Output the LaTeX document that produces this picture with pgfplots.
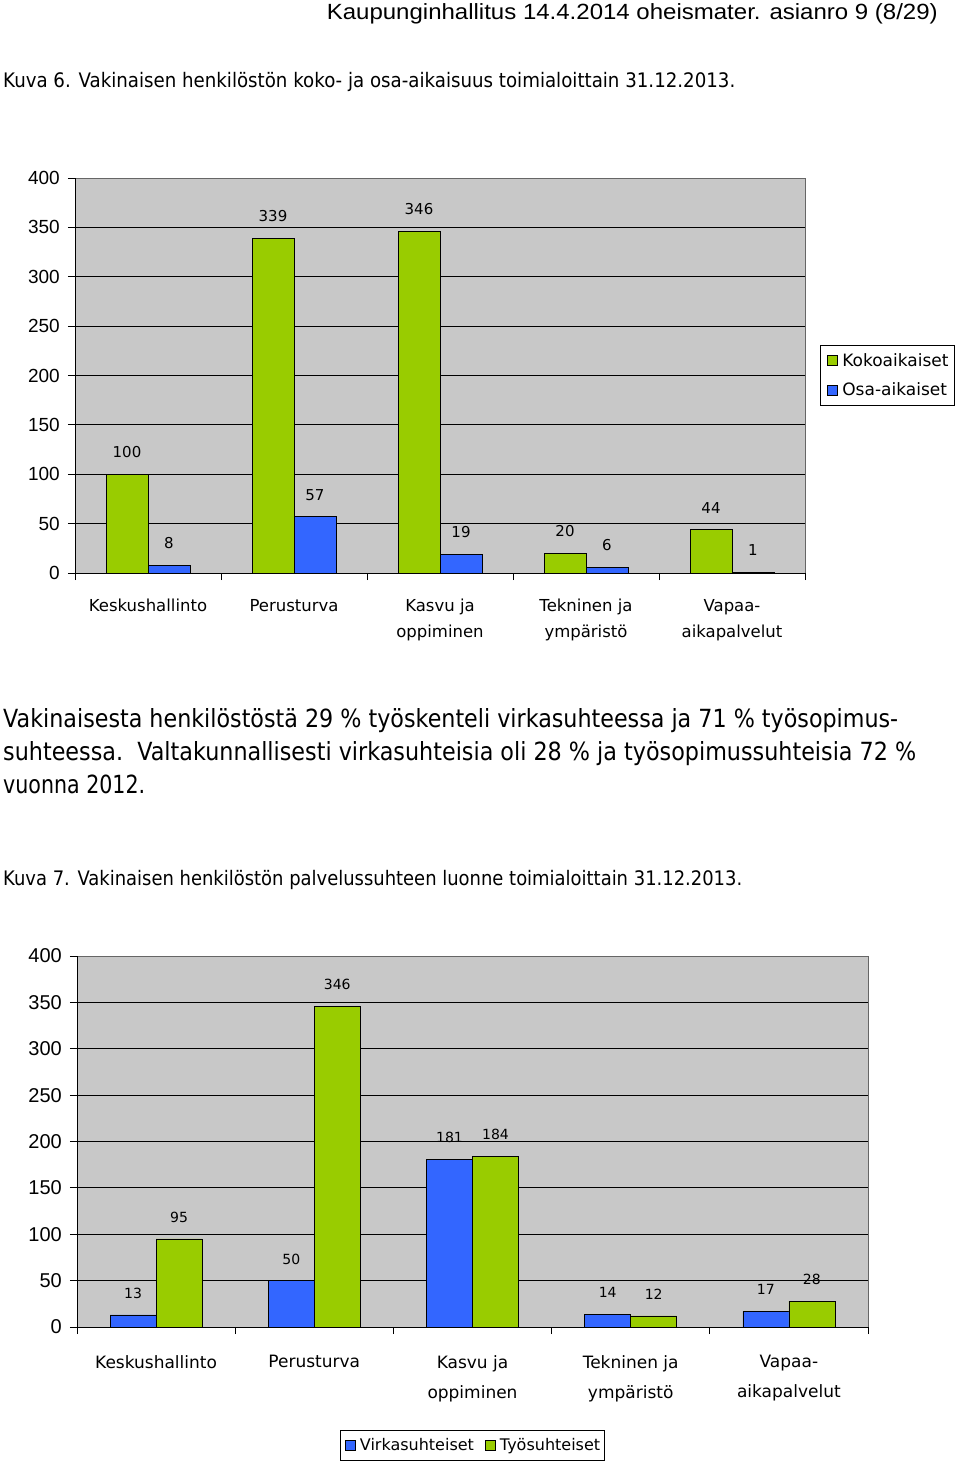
\documentclass[border=0pt]{standalone}
\usepackage{graphicx}
\usepackage{pgfplots}
\pgfplotsset{compat=1.18}
\usepackage{fontspec}
\setmainfont{DejaVu Sans}
\newfontfamily\arial{Liberation Sans}
\definecolor{kgreen}{RGB}{153,204,0}
\definecolor{kblue}{RGB}{51,102,255}
\definecolor{plotgray}{RGB}{200,200,200}

\pgfplotsset{
  kbase/.style={
    scale only axis,
    ybar=0pt,
    ymin=0, ymax=400,
    xmin=-0.5, xmax=4.5,
    xtick={-0.5,0.5,...,4.5},
    xticklabels={Keskushallinto,Perusturva,{Kasvu ja\\oppiminen},{Tekninen ja\\ympäristö},{Vapaa-\\aikapalvelut},{}},
    ytick={0,50,...,350},
    extra y ticks={400},
    extra y tick style={grid=none},
    ymajorgrids,
    grid style={black, line width=0.8pt},
    axis x line*=bottom, axis y line*=left,
    axis line style={black, line width=1pt},
    tick style={black, line width=1pt},
    tick align=outside,
    major tick length=7pt,
    axis background/.style={fill=plotgray, draw=gray!80!black, line width=0.8pt},
    /pgf/number format/assume math mode=true,
    nodes near coords,
    clip=false,
  },
  kbar/.style={draw=black, line width=0.7pt,
    legend image code/.code={\draw[##1, line width=0.6pt] (3pt,-5pt) rectangle (13pt,5pt); \path[draw=none, fill=none] (0pt,0pt) rectangle (16pt,0pt);}},
}

\begin{document}
\begin{tikzpicture}
\path (0pt,0pt) rectangle (960pt,-1461pt);
% header and texts
\node[anchor=base east, inner sep=0pt] at (938pt,-20pt) {\resizebox{611pt}{\height}{\arial\fontsize{22}{26}\selectfont Kaupunginhallitus 14.4.2014 oheismater. asianro 9 (8/29)}};
\node[anchor=base west, inner sep=0pt] at (3pt,-88pt) {\resizebox{732pt}{\height}{\fontsize{20}{24}\selectfont Kuva 6. Vakinaisen henkilöstön koko- ja osa-aikaisuus toimialoittain 31.12.2013.}};
\node[anchor=base west, inner sep=0pt] at (3pt,-727pt) {\resizebox{895pt}{\height}{\fontsize{25}{30}\selectfont Vakinaisesta henkilöstöstä 29 \% työskenteli virkasuhteessa ja 71 \% työsopimus-}};
\node[anchor=base west, inner sep=0pt] at (3pt,-760pt) {\resizebox{913pt}{\height}{\fontsize{25}{30}\selectfont suhteessa.\ \ Valtakunnallisesti virkasuhteisia oli 28 \% ja työsopimussuhteisia 72 \%}};
\node[anchor=base west, inner sep=0pt] at (3pt,-793pt) {\resizebox{142pt}{\height}{\fontsize{25}{30}\selectfont vuonna 2012.}};
\node[anchor=base west, inner sep=0pt] at (3pt,-885pt) {\resizebox{739pt}{\height}{\fontsize{20}{24}\selectfont Kuva 7. Vakinaisen henkilöstön palvelussuhteen luonne toimialoittain 31.12.2013.}};

% chart 1
\begin{axis}[
  kbase,
  at={(75pt,-573pt)}, anchor=south west,
  width=730pt, height=395pt,
  bar width=42pt,
  xticklabel style={xshift=73pt, anchor=north, inner sep=0pt, yshift=-19pt, align=center, font=\fontsize{16.5}{26}\selectfont},
  yticklabel style={font=\arial\fontsize{19}{22}\selectfont, inner sep=0pt, xshift=-8pt},
  every node near coord/.append style={font=\fontsize{15}{18}\selectfont, inner sep=0pt, yshift=16pt, black},
  legend style={at={(axis description cs:1.0205,0.577)}, anchor=north west, draw=black, line width=0.8pt,
    font=\fontsize{17}{20}\selectfont, cells={anchor=west}, inner xsep=4pt, inner ysep=6pt, row sep=11pt},
]
\addplot[kbar, fill=kgreen] coordinates {(0,100) (1,339) (2,346) (3,20) (4,44)};
\addplot[kbar, fill=kblue] coordinates {(0,8) (1,57) (2,19) (3,6) (4,1)};
\legend{Kokoaikaiset, Osa-aikaiset}
\end{axis}

% chart 2
\begin{axis}[
  kbase,
  at={(77pt,-1327pt)}, anchor=south west,
  width=791pt, height=371pt,
  bar width=46pt,
  xticklabel style={xshift=79.1pt, anchor=north, inner sep=0pt, yshift=-21pt, align=center, font=\fontsize{17}{30}\selectfont},
  yticklabel style={font=\arial\fontsize{20}{23}\selectfont, inner sep=0pt, xshift=-8pt},
  every node near coord/.append style={font=\fontsize{14}{17}\selectfont, inner sep=0pt, yshift=16pt, black},
  legend columns=2,
  legend style={at={(axis description cs:0.4994,-0.2776)}, anchor=north, draw=black, line width=0.8pt,
    font=\fontsize{16}{19}\selectfont, inner xsep=2pt, inner ysep=6pt, /tikz/every even column/.append style={column sep=6pt}},
]
\addplot[kbar, fill=kblue] coordinates {(0,13) (1,50) (2,181) (3,14) (4,17)};
\addplot[kbar, fill=kgreen] coordinates {(0,95) (1,346) (2,184) (3,12) (4,28)};
\legend{Virkasuhteiset, Työsuhteiset}
\end{axis}
\end{tikzpicture}
\end{document}
